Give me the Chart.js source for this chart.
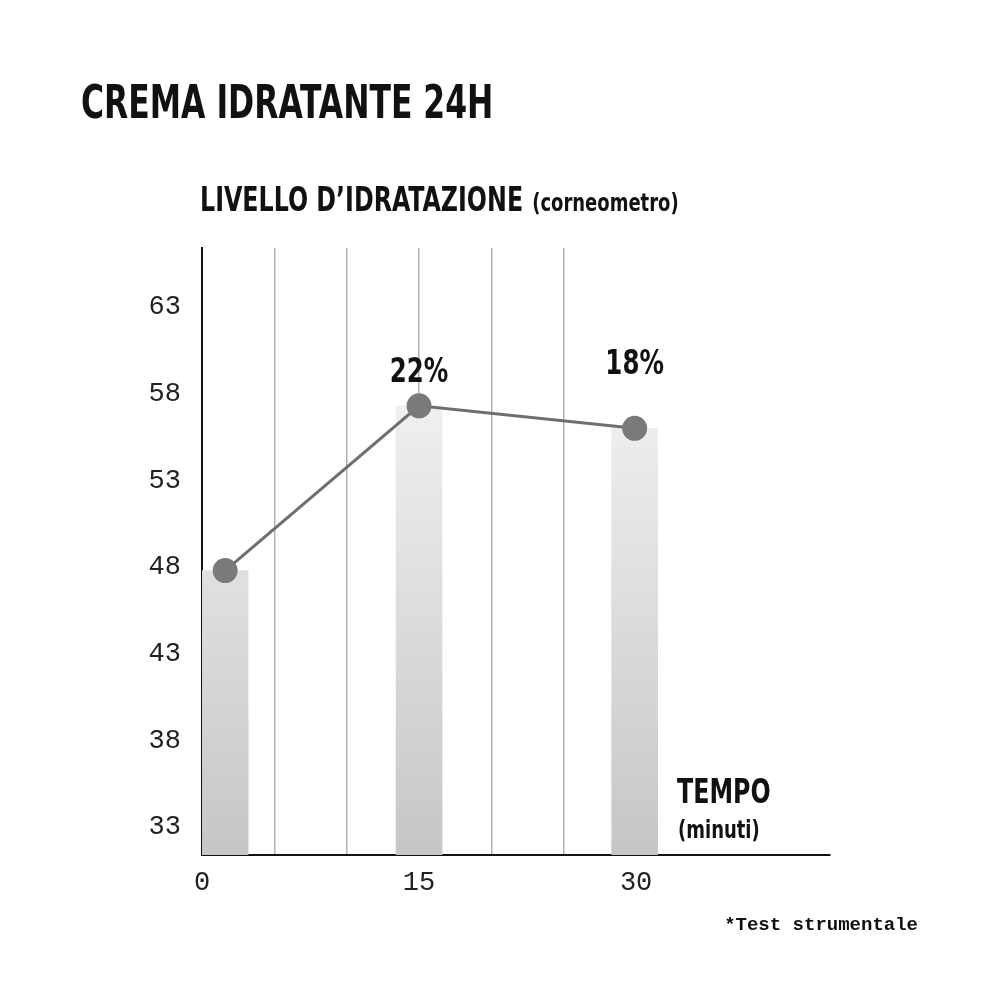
<!DOCTYPE html>
<html><head><meta charset="utf-8">
<script src="https://cdn.jsdelivr.net/npm/chart.js@4/dist/chart.umd.min.js"></script>
<style>html,body{margin:0;background:#fff}#w{width:1000px;height:1000px}</style>
</head><body><div id="w"><canvas id="c"></canvas></div>
<script>
const timeMinutes = [1.6, 15, 29.9];
const hydration = [47.8, 57.3, 56.0];
const pointLabels = ["", "22%", "18%"];
const yTicks = [33, 38, 43, 48, 53, 58, 63];
const xTickLabels = [0, 15, 30];
const gridLines = [5, 10, 15, 20, 25];

const COND = '"DejaVu Sans Condensed", "DejaVu Sans", sans-serif';
const MONO = '"Liberation Mono", "DejaVu Sans Mono", monospace';

function cText(ctx, t, x, y, font, sx, align) {
  ctx.save();
  ctx.font = font;
  let w = ctx.measureText(t).width * sx;
  let x0 = align === 'center' ? x - w / 2 : x;
  ctx.translate(x0, y); ctx.scale(sx, 1);
  ctx.textAlign = 'left';
  ctx.fillText(t, 0, 0);
  ctx.restore();
  return w;
}

const textPlugin = {
  id: 'texts',
  afterDatasetsDraw(chart) {
    const ctx = chart.ctx, xs = chart.scales.x, ys = chart.scales.y;
    ctx.save();
    ctx.fillStyle = '#111';
    ctx.textBaseline = 'alphabetic';
    cText(ctx, 'CREMA IDRATANTE 24H', 81, 118, 'bold 46px ' + COND, 0.76);
    const w = cText(ctx, 'LIVELLO D\u2019IDRATAZIONE', 200, 211, 'bold 33px ' + COND, 0.8);
    cText(ctx, '(corneometro)', 200 + w + 9, 211, 'bold 25px ' + COND, 0.8);
    cText(ctx, 'TEMPO', 677, 803, 'bold 33px ' + COND, 0.8);
    cText(ctx, '(minuti)', 678, 838, 'bold 25px ' + COND, 0.8);
    pointLabels.forEach((l, i) => {
      if (!l) return;
      cText(ctx, l, xs.getPixelForValue(timeMinutes[i]), ys.getPixelForValue(hydration[i]) - (i === 2 ? 54 : 24), 'bold 34px ' + COND, 0.8, 'center');
    });
    ctx.textAlign = 'right';
    ctx.font = 'bold 19px ' + MONO;
    ctx.fillText('*Test strumentale', 918, 930);
    ctx.restore();
  }
};

new Chart(document.getElementById('c'), {
  data: {
    datasets: [
      {
        type: 'line', data: timeMinutes.map((x, i) => ({x, y: hydration[i]})),
        borderColor: '#6e6e6e', borderWidth: 3, pointRadius: 11, pointHoverRadius: 11,
        pointBackgroundColor: '#7a7a7a', pointBorderColor: '#7a7a7a', order: 0
      },
      {
        type: 'bar', data: timeMinutes.map((x, i) => ({x, y: hydration[i]})),
        barThickness: 46, order: 1,
        backgroundColor(ctx) {
          const a = ctx.chart.chartArea;
          if (!a) return '#ddd';
          const g = ctx.chart.ctx.createLinearGradient(0, 400, 0, a.bottom);
          g.addColorStop(0, '#f0f0f0'); g.addColorStop(1, '#c6c6c6');
          return g;
        }
      }
    ]
  },
  options: {
    responsive: true, maintainAspectRatio: false, animation: false,
    devicePixelRatio: 1,
    layout: { padding: { top: 248, right: 170, left: 0, bottom: 0 } },
    plugins: { legend: { display: false }, tooltip: { enabled: false } },
    scales: {
      x: {
        type: 'linear', min: 0, max: 43.4, offset: false,
        afterBuildTicks(s) { s.ticks = [0,5,10,15,20,25,30].map(v => ({value: v})); },
        afterFit(s) { s.height = 145; },
        ticks: {
          font: { family: MONO, size: 27 }, color: '#222', padding: 12,
          callback: v => xTickLabels.includes(v) ? String(v) : ''
        },
        grid: {
          drawTicks: false, offset: false,
          color: c => gridLines.includes(c.tick && c.tick.value) ? '#b0b0b0' : 'rgba(0,0,0,0)',
          lineWidth: 1.5
        },
        border: { color: '#111', width: 2 }
      },
      y: {
        min: 31.4, max: 66.4,
        afterBuildTicks(s) { s.ticks = yTicks.map(v => ({value: v})); },
        afterFit(s) { s.width = 202; },
        ticks: { font: { family: MONO, size: 27 }, color: '#222', padding: 21 },
        grid: { display: false, drawTicks: false },
        border: { color: '#111', width: 2 }
      }
    }
  },
  plugins: [textPlugin]
});
</script></body></html>
